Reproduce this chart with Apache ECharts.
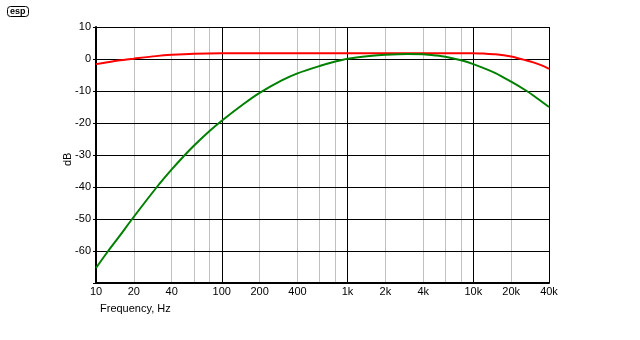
<!DOCTYPE html>
<html>
<head>
<meta charset="utf-8">
<script src="https://cdn.jsdelivr.net/npm/echarts@6/dist/echarts.min.js"></script>
<style>
  html, body { margin: 0; padding: 0; background: #fff; }
  #chart { width: 640px; height: 340px; }
</style>
</head>
<body>
<div id="chart"></div>
<script>
// frequency points (Hz) and response (dB)
const redFreq = [10, 12, 15, 20, 30, 40, 60, 100, 200, 1000, 5000, 10000, 12000, 15000, 20000, 25000, 30000, 35000, 40000]
const redDb = [-1.6, -1.1, -0.5, 0.1, 0.9, 1.3, 1.65, 1.8, 1.8, 1.8, 1.8, 1.8, 1.7, 1.5, 0.8, -0.2, -1.05, -2.0, -3.1]

const greenFreq = [10, 12.5, 15, 20, 30.5, 40, 50, 60, 80, 100, 150, 200, 300, 400, 600, 800, 1000, 1500, 2000, 3000, 4000, 5000, 6000, 8000, 10000, 15000, 20000, 26600, 30000, 40000]
const greenDb = [-65.3, -60, -55.9, -49.3, -40, -34.5, -30.3, -27.1, -22.5, -19.3, -14.0, -10.6, -6.7, -4.5, -2.2, -0.8, 0.1, 0.95, 1.35, 1.6, 1.45, 1.1, 0.7, -0.4, -1.6, -4.4, -7.1, -10, -11.4, -15]

const xLabels = [10, 20, 40, 100, 200, 400, 1000, 2000, 4000, 10000, 20000, 40000]
const minorGrid = [20, 40, 60, 80, 200, 400, 600, 800, 2000, 4000, 6000, 8000, 20000]

const font = 'Liberation Sans, Arial, sans-serif'

function pairs(xs, ys) {
  return xs.map((x, i) => [x, ys[i]])
}

function fmtFreq(v) {
  if (v >= 1000) return (v / 1000) + 'k'
  return String(v)
}

const chart = echarts.init(document.getElementById('chart'), null, { renderer: 'canvas' })

chart.setOption({
  animation: false,
  backgroundColor: '#fff',
  textStyle: { fontFamily: font },
  graphic: [{
    type: 'rect',
    shape: { x: 7.5, y: 6.5, width: 21, height: 10, r: 3 },
    style: { fill: '#fff', stroke: '#000', lineWidth: 1 }
  }, {
    type: 'text',
    left: 10,
    top: 7,
    style: { text: 'esp', fontSize: 9, fontWeight: 'bold', fontFamily: font, fill: '#000' }
  }, {
    // y axis title
    type: 'text',
    x: 62,
    y: 166,
    rotation: Math.PI / 2,
    style: { text: 'dB', fontSize: 11, fontFamily: font, fill: '#000' }
  }],
  title: {
    text: 'Frequency, Hz',
    left: 95,
    top: 298,
    textStyle: { fontSize: 11, fontWeight: 'normal', color: '#000', fontFamily: font }
  },
  grid: {
    left: 96,
    right: 91,
    top: 27,
    bottom: 57,
    show: false
  },
  xAxis: {
    type: 'log',
    logBase: 10,
    min: 10,
    max: 40000,
    axisLine: { show: true, onZero: false, lineStyle: { color: '#000', width: 2 } },
    axisTick: { show: false },
    axisLabel: {
      customValues: xLabels,
      formatter: fmtFreq,
      color: '#000',
      fontSize: 11,
      margin: 3,
      fontFamily: font
    },
    splitLine: { show: true, lineStyle: { color: '#000', width: 1 } }
  },
  yAxis: {
    type: 'value',
    min: -70,
    max: 10,
    interval: 10,
    axisLine: { show: true, lineStyle: { color: '#000', width: 2 } },
    axisTick: { show: true, length: 3, lineStyle: { color: '#000' } },
    axisLabel: {
      color: '#000',
      fontSize: 11,
      margin: 5,
      fontFamily: font,
      formatter: v => (v === -70 ? '' : String(v))
    },
    splitLine: { show: true, lineStyle: { color: '#000', width: 1 } }
  },
  series: [{
    name: 'minor',
    type: 'line',
    data: [],
    markLine: {
      silent: true,
      symbol: ['none', 'none'],
      z: -1,
      label: { show: false },
      lineStyle: { color: '#c0c0c0', width: 1, type: 'solid' },
      data: minorGrid.map(f => ({ xAxis: f }))
    }
  }, {
    name: 'red',
    type: 'line',
    data: pairs(redFreq, redDb),
    smooth: 0.3,
    showSymbol: false,
    lineStyle: { color: '#ff0000', width: 2 },
    z: 3
  }, {
    name: 'green',
    type: 'line',
    data: pairs(greenFreq, greenDb),
    smooth: 0.3,
    showSymbol: false,
    lineStyle: { color: '#008000', width: 2 },
    z: 4
  }]
})
</script>
</body>
</html>
